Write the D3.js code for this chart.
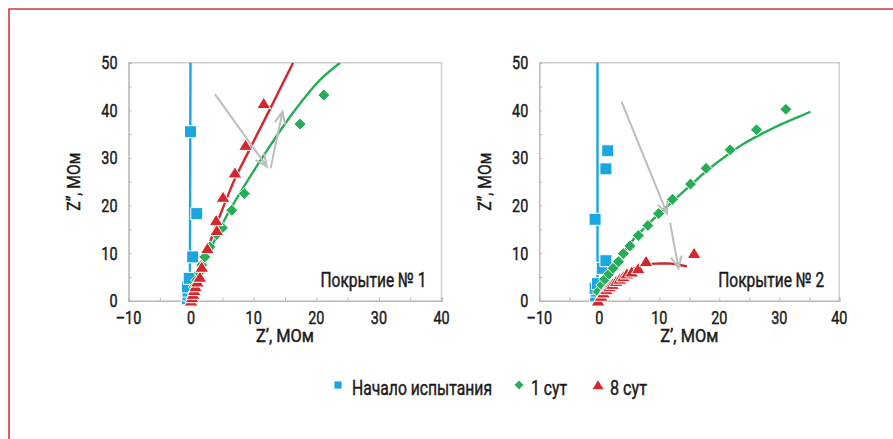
<!DOCTYPE html>
<html><head><meta charset="utf-8">
<script src="https://cdn.jsdelivr.net/npm/d3@7"></script>
<style>
body{margin:0;background:#fff}
svg{display:block}
text{font-family:Roboto,"Liberation Sans",sans-serif;fill:#1a1a1a;font-weight:400;stroke:#1a1a1a;stroke-width:0.45px}
</style>
</head><body>
<svg id="c" width="893" height="439"></svg>
<script>
// ---------- data ----------
const panelLabels = ["Покрытие № 1", "Покрытие № 2"];
const seriesNames = ["Начало испытания", "1 сут", "8 сут"];
const xTickValues = [-10, 0, 10, 20, 30, 40];
const yTickValues = [0, 10, 20, 30, 40, 50];
const xTitle = "Z’, МОм";
const yTitle = "Z”, МОм";

// Panel 1 (points: [Z', Z''])
const p1Start = [[-0.6,0.4],[-0.5,1.2],[-0.5,2.0],[-0.6,2.9],[-0.3,4.7],[0.25,9.2],[0.9,18.3],[-0.1,35.5]];
const p1Day1 = [[0.1,0.6],[0.3,1.5],[0.5,2.9],[0.9,4.3],[1.3,5.9],[1.7,7.5],[2.2,9.2],[3.0,11.3],[4.1,13.9],[5.0,15.3],[6.5,19.0],[8.5,22.5],[17.4,37.1],[21.2,43.2]];
const p1Day8 = [[0,0],[0.15,0.7],[0.3,1.4],[0.5,2.2],[0.7,3.0],[1.0,4.0],[1.4,5.0],[1.7,7.1],[2.6,11.0],[4.1,14.8],[4.0,16.9],[5.1,21.8],[7.0,26.9],[8.7,32.7],[11.6,41.5]];
const p1StartFit = [[-0.2,0],[-0.1,50]];
const p1Day1Fit = [[0,0],[1,3.9],[2,7.4],[4,13.4],[6,18.6],[9.1,25.4],[12,31.3],[14.7,36.6],[17.5,41.6],[20.6,46.4],[23.8,50]];
const p1Day8Fit = [[0,0],[1,4.5],[2,8.5],[3,12.2],[4,15.8],[5,19.2],[6,22.5],[7,25.6],[9,30.9],[11,36.1],[13,41.3],[15,46.6],[16.3,50]];
const p1Arrows = [[[3.8,43.4],[12.1,28.2]],[[12.7,27.8],[14.6,39.7]]];

// Panel 2
const p2Start = [[-0.6,1.0],[-0.5,2.0],[-0.7,2.6],[-0.3,3.6],[0.5,6.8],[1.1,8.4],[-0.7,17.1],[1.1,27.7],[1.4,31.5]];
const p2Day1 = [[-0.2,1.9],[0.4,3.3],[0.9,4.5],[1.6,5.6],[2.3,6.8],[3.2,8.2],[4.0,9.9],[5.1,11.5],[6.5,13.7],[8.1,15.8],[9.9,18.3],[12.2,21.3],[15.2,24.5],[17.8,27.8],[21.8,31.7],[26.2,35.9],[31.1,40.2]];
const p2Day8 = [[-0.2,0],[0.3,1.0],[0.7,1.7],[1.2,2.4],[1.7,3.0],[2.2,3.5],[2.8,4.1],[3.4,4.6],[4.0,5.1],[4.6,5.7],[5.4,6.1],[6.5,6.8],[7.8,8.3],[15.8,10.0]];
const p2StartFit = [[-0.3,0],[-0.3,50]];
const p2Day1Fit = [[0,0],[1,3.6],[2,6.3],[4,10.2],[6,13.3],[8,15.9],[10,18.3],[12,20.6],[15,24.0],[18,27.4],[21,30.3],[24,32.9],[27,35.0],[30,36.9],[33,38.5],[35.2,39.7]];
const p2Day8Fit = [[0,0],[1,2.2],[2,3.6],[3,4.7],[4,5.6],[5,6.3],[6,6.9],[7,7.4],[8,7.7],[10,7.8],[12,7.8],[13,7.6],[14.6,7.2]];
const p2Arrows = [[[3.7,41.8],[11.3,18.3]],[[11.8,16.4],[13.2,6.8]]];

const panelsData = [
  {label: panelLabels[0], start: p1Start, day1: p1Day1, day8: p1Day8, startFit: p1StartFit, day1Fit: p1Day1Fit, day8Fit: p1Day8Fit, arrows: p1Arrows},
  {label: panelLabels[1], start: p2Start, day1: p2Day1, day8: p2Day8, startFit: p2StartFit, day1Fit: p2Day1Fit, day8Fit: p2Day8Fit, arrows: p2Arrows}
];

// ---------- styles / layout ----------
const BLUE = "#1aa7e0", GREEN = "#25ae55", RED = "#d5252d", GRAY = "#bdbdbd";
const layouts = [
  {x0: 128.5, x1: 441.5, yTitleX: 80},
  {x0: 539.3, x1: 839.3, yTitleX: 491}
];
const yTop = 62.7, yBot = 300.7;
const NARROW = 0.8;

const svg = d3.select("#c");

// condense text horizontally
function condense(sel, target) {
  sel.each(function() {
    const w = this.getComputedTextLength();
    const t = target != null ? target : w * NARROW;
    d3.select(this).attr("textLength", t).attr("lengthAdjust", "spacingAndGlyphs");
  });
  return sel;
}

// outer red frame
svg.append("path").attr("d", "M9,445 V9 H900").attr("fill", "none")
  .attr("stroke", "#d9343a").attr("stroke-width", 1.6);

function square(s){ return `M${-s},${-s}H${s}V${s}H${-s}Z`; }
function diamond(s){ return `M0,${-s}L${s},0L0,${s}L${-s},0Z`; }
function triangle(s){ return `M0,${-s*0.95}L${s*1.1},${s*0.85}L${-s*1.1},${s*0.85}Z`; }

panelsData.forEach((p, i) => {
  const L = layouts[i];
  const x = d3.scaleLinear().domain([-10, 40]).range([L.x0, L.x1]);
  const y = d3.scaleLinear().domain([0, 50]).range([yBot, yTop]);
  const g = svg.append("g");

  // plot box (top/right)
  g.append("path").attr("d", `M${L.x0},${yTop}H${L.x1}V${yBot}`)
    .attr("fill", "none").attr("stroke", "#cfcfcf").attr("stroke-width", 1.5);

  // axes
  const minorX = d3.range(-10, 40.1, 5);
  const minorY = d3.range(0, 50.1, 5);
  const xAxis = d3.axisBottom(x).tickValues(minorX).tickSize(-3).tickFormat("");
  const yAxis = d3.axisLeft(y).tickValues(minorY).tickSize(-3).tickFormat("");
  const gx = g.append("g").attr("transform", `translate(0,${yBot})`).call(xAxis);
  const gy = g.append("g").attr("transform", `translate(${L.x0},0)`).call(yAxis);
  [gx, gy].forEach(a => {
    a.select(".domain").attr("stroke", "#b8b8b8").attr("stroke-width", 1.5);
    a.selectAll(".tick line").attr("stroke", "#b8b8b8").attr("stroke-width", 1);
  });
  // tick labels
  condense(g.selectAll(".xl").data(xTickValues).join("text")
    .attr("x", d => x(d)).attr("y", yBot + 23)
    .attr("text-anchor", "middle").attr("font-size", 18)
    .text(d => d < 0 ? "–" + Math.abs(d) : d));
  condense(g.selectAll(".yl").data(yTickValues).join("text")
    .attr("x", L.x0 - 11).attr("y", d => y(d) + 6.5)
    .attr("text-anchor", "end").attr("font-size", 18)
    .text(d => d));
  // axis titles
  condense(g.append("text").attr("x", (L.x0 + L.x1) / 2).attr("y", yBot + 41)
    .attr("text-anchor", "middle").attr("font-size", 18).text(xTitle), 58);
  condense(g.append("text").attr("transform", `translate(${L.yTitleX},${(yTop + yBot) / 2}) rotate(-90)`)
    .attr("text-anchor", "middle").attr("font-size", 18).text(yTitle), 58);

  // clip
  const cid = "clip" + i;
  svg.append("clipPath").attr("id", cid).append("rect")
    .attr("x", L.x0).attr("y", yTop).attr("width", L.x1 - L.x0).attr("height", yBot - yTop + 8);
  const plot = g.append("g");

  const lineV = d3.line().x(d => x(d[0])).y(d => y(d[1]));
  const lineC = d3.line().x(d => x(d[0])).y(d => y(d[1])).curve(d3.curveCatmullRom);

  // fit lines
  plot.append("path").attr("d", lineV(p.startFit)).attr("fill", "none").attr("stroke", BLUE).attr("stroke-width", 2.4);
  plot.append("path").attr("d", lineC(p.day8Fit))
    .attr("fill", "none").attr("stroke", RED).attr("stroke-width", 2.4).attr("clip-path", `url(#${cid})`);
  plot.append("path").attr("d", lineC(p.day1Fit))
    .attr("fill", "none").attr("stroke", GREEN).attr("stroke-width", 2.4).attr("clip-path", `url(#${cid})`);

  // markers
  plot.selectAll(".s").data(p.start).join("path")
    .attr("transform", d => `translate(${x(d[0])},${y(d[1])})`).attr("d", square(6))
    .attr("fill", BLUE).attr("stroke", "#fff").attr("stroke-width", 1);
  plot.selectAll(".d1").data(p.day1).join("path")
    .attr("transform", d => `translate(${x(d[0])},${y(d[1])})`).attr("d", diamond(6))
    .attr("fill", GREEN).attr("stroke", "#fff").attr("stroke-width", 1);
  plot.selectAll(".d8").data(p.day8).join("path")
    .attr("transform", d => `translate(${x(d[0])},${y(d[1])})`).attr("d", triangle(6.3))
    .attr("fill", RED).attr("stroke", "#fff").attr("stroke-width", 1);

  // gray arrows
  p.arrows.forEach(a => {
    const sx = x(a[0][0]), sy = y(a[0][1]), tx = x(a[1][0]), ty = y(a[1][1]);
    const ang = Math.atan2(ty - sy, tx - sx);
    const len = 13, wing = 0.42;
    const w1 = [tx - len * Math.cos(ang - wing), ty - len * Math.sin(ang - wing)];
    const w2 = [tx - len * Math.cos(ang + wing), ty - len * Math.sin(ang + wing)];
    plot.append("path").attr("d", `M${sx},${sy}L${tx},${ty}M${w1[0]},${w1[1]}L${tx},${ty}L${w2[0]},${w2[1]}`)
      .attr("fill", "none").attr("stroke", GRAY).attr("stroke-width", 2);
  });

  // panel label
  condense(g.append("text").attr("x", L.x1 - 15).attr("y", 287).attr("text-anchor", "end")
    .attr("font-size", 20).text(p.label), 106);
});

// legend
const legend = svg.append("g");
const legendItems = [
  {name: seriesNames[0], shape: square(3.6), color: BLUE, mx: 338, tx: 352, w: 140},
  {name: seriesNames[1], shape: diamond(4.5), color: GREEN, mx: 519, tx: 531, w: 36},
  {name: seriesNames[2], shape: triangle(5), color: RED, mx: 598, tx: 610, w: 37}
];
legendItems.forEach(it => {
  legend.append("path").attr("transform", `translate(${it.mx},385)`).attr("d", it.shape).attr("fill", it.color);
  condense(legend.append("text").attr("x", it.tx).attr("y", 395).attr("font-size", 20).text(it.name), it.w);
});
</script>
</body></html>
